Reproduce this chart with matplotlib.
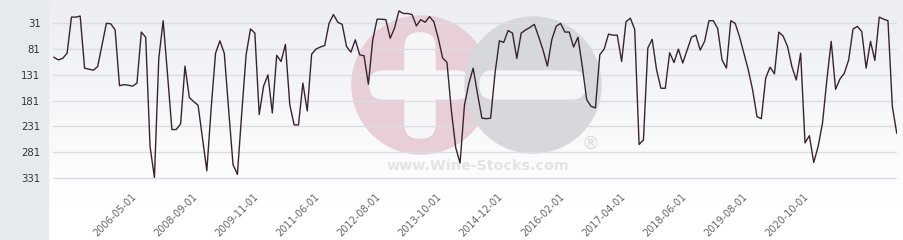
import numpy as np
import matplotlib
matplotlib.use("Agg")
import matplotlib.pyplot as plt
from matplotlib.patches import Circle, FancyBboxPatch, Rectangle
import matplotlib.transforms as mtransforms

# ---------------- data ----------------
ranks = [
    97, 102, 99, 89, 19, 19, 17, 118, 120, 122,
    115, 73, 31, 32, 44, 152, 150, 151, 153, 147,
    48, 58, 270, 330, 99, 26, 130, 237, 237, 226,
    114, 175, 183, 190, 253, 317, 195, 89, 65, 89,
    199, 305, 324, 205, 92, 42, 50, 208, 153, 131,
    205, 93, 105, 72, 189, 228, 228, 147, 201, 91,
    81, 77, 74, 31, 14, 29, 33, 76, 87, 63,
    92, 94, 149, 63, 23, 23, 24, 60, 40, 7,
    12, 12, 14, 36, 24, 29, 18, 28, 60, 98,
    107, 200, 272, 302, 190, 148, 118, 168, 215, 216,
    215, 128, 65, 68, 45, 50, 99, 50, 44, 39,
    33, 57, 83, 114, 63, 37, 31, 48, 48, 77,
    58, 115, 179, 192, 195, 92, 81, 52, 54, 54,
    105, 28, 21, 43, 266, 257, 79, 62, 121, 157,
    157, 88, 107, 81, 108, 83, 58, 54, 83, 66,
    26, 26, 41, 102, 118, 26, 31, 57, 89, 121,
    160, 212, 216, 137, 116, 129, 48, 56, 76, 115,
    141, 89, 263, 249, 301, 270, 225, 141, 66, 159,
    139, 128, 102, 42, 37, 47, 118, 66, 103, 19,
    23, 26, 192, 244,
]
tick_labels = [
    "2006-05-01", "2008-09-01", "2009-11-01", "2011-06-01",
    "2012-08-01", "2013-10-01", "2014-12-01", "2016-02-01",
    "2017-04-01", "2018-06-01", "2019-08-01", "2020-10-01",
]
y_ticks = [31, 81, 131, 181, 231, 281, 331]

# ---------------- figure ----------------
W, H = 904, 240
fig = plt.figure(figsize=(W / 100, H / 100), dpi=100)
fig.patch.set_facecolor("white")

# background layer in pixel coordinates
bg = fig.add_axes([0, 0, 1, 1], zorder=0)
bg.set_xlim(0, W)
bg.set_ylim(H, 0)
bg.axis("off")

# gradient of plot area
grad = np.linspace(0, 1, 256).reshape(-1, 1)
top = np.array([0.925, 0.933, 0.955])
bot = np.array([1.0, 1.0, 1.0])
img = top[None, None, :] * (1 - grad[:, :, None]) + bot[None, None, :] * grad[:, :, None]
bg.imshow(img, extent=(48, W, 205, 0), aspect="auto", zorder=0, interpolation="bilinear")
bg.add_patch(Rectangle((48, 205), W - 48, H - 205, color="white", zorder=0))
# left panel
bg.add_patch(Rectangle((0, 0), 48, H, color="#e7eaed", zorder=1))

# watermark
wm_white = "#f6f6f9"
bg.add_patch(Circle((421, 85), 69, color="#e8ced6", zorder=2))
bg.add_patch(FancyBboxPatch((405, 33), 30, 105, boxstyle="round,pad=0,rounding_size=14",
                            color=wm_white, zorder=3))
bg.add_patch(FancyBboxPatch((370, 71), 100, 28, boxstyle="round,pad=0,rounding_size=13",
                            color=wm_white, zorder=3))
bg.add_patch(Circle((533, 85), 68, color="#d7d8db", zorder=4))
bg.add_patch(FancyBboxPatch((480, 71), 105, 28, boxstyle="round,pad=0,rounding_size=13",
                            color=wm_white, zorder=5))
bg.text(478, 166, "www.Wine-Stocks.com", fontsize=10.3, fontweight="bold",
        color="#e4e4e7", ha="center", va="center", zorder=5)
bg.text(591, 144, "®", fontsize=13, color="#dcdcdf", ha="center", va="center", zorder=5)

# main axes
x0_px, x1_px = 53, 897
ax = fig.add_axes([x0_px / W, 35 / H, (x1_px - x0_px) / W, 205 / H], zorder=1)
ax.patch.set_alpha(0)
n = len(ranks)
idx = np.arange(n)

# pixel mapping: first point at px 54, last at px 896.7
spacing = (896.7 - 54) / (n - 1)
ax.set_xlim(-(54 - x0_px) / spacing, (n - 1) + (x1_px - 896.7) / spacing)
# y: value 31 at px 23.3, 331 at px 178
ppu = (178 - 23.3) / 300
v_top = 31 - 23.3 / ppu
v_bot = 31 + (205 - 23.3) / ppu
ax.set_ylim(v_bot, v_top)

ax.set_yticks(y_ticks)
ax.set_yticklabels([str(v) for v in y_ticks])
ax.yaxis.grid(True, color="#dcdde2", linewidth=1.0)
ax.set_axisbelow(True)
ax.xaxis.grid(False)

tick_idx = [18 + 14 * k for k in range(len(tick_labels))]
ax.set_xticks(tick_idx)
ax.set_xticklabels(tick_labels, rotation=45, ha="right", va="top", rotation_mode="anchor")

ax.tick_params(axis="both", length=0)
ax.tick_params(axis="y", pad=9, labelsize=7.3, labelcolor="#333333")
ax.tick_params(axis="x", pad=0, labelsize=7.0, labelcolor="#666666")
offset = mtransforms.ScaledTranslation(-1.5 / 100, 13 / 100, fig.dpi_scale_trans)
for lab in ax.get_xticklabels():
    lab.set_transform(lab.get_transform() + offset)

for s in ax.spines.values():
    s.set_visible(False)

ax.plot(idx, ranks, color="#3a2330", linewidth=1.0, zorder=3)

fig.savefig("out.png", dpi=100)
